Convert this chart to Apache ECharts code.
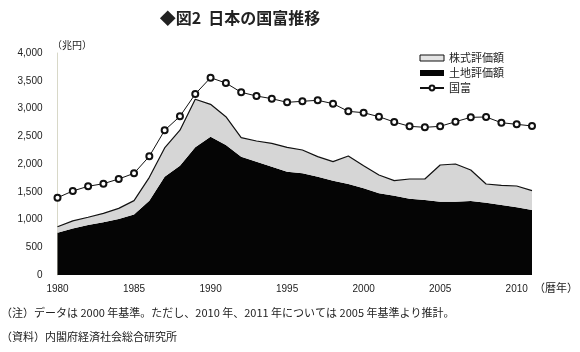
<!DOCTYPE html>
<html><head><meta charset="utf-8">
<script src="https://cdn.jsdelivr.net/npm/echarts@6/dist/echarts.min.js"></script>
<style>html,body{margin:0;padding:0;background:#fff}#c{width:580px;height:352px}</style>
</head><body><div id="c"></div>
<script>
const years = ['1980','1981','1982','1983','1984','1985','1986','1987','1988','1989','1990','1991','1992','1993','1994','1995','1996','1997','1998','1999','2000','2001','2002','2003','2004','2005','2006','2007','2008','2009','2010','2011'];
const land = [762,840,900,950,1010,1090,1340,1770,1970,2300,2492,2342,2132,2042,1952,1862,1832,1772,1700,1640,1562,1472,1430,1375,1351,1321,1321,1333,1303,1261,1220,1171];
const stock = [108,135,140,160,190,250,420,520,640,866,583,510,342,372,421,439,420,360,342,504,407,330,270,355,379,661,679,559,337,355,384,348];
const wealth = [1393,1514,1598,1645,1730,1832,2139,2607,2859,3261,3555,3459,3292,3225,3177,3111,3130,3148,3087,2949,2924,2852,2757,2679,2661,2679,2762,2841,2847,2744,2715,2685];
const yTicks = [0,500,1000,1500,2000,2500,3000,3500,4000];

const chart = echarts.init(document.getElementById('c'), null, {renderer:'canvas'});
const fam = '"Liberation Sans", Arial, sans-serif';
const jfam = '"Noto Sans CJK JP", sans-serif';
chart.setOption({
  animation:false,
  backgroundColor:'#fff',
  grid:{left:57.5, right:48, top:53, bottom:77},
  legend:{
    orient:'vertical', left:414, top:47, itemWidth:24, itemHeight:6, itemGap:3,
    data:[
      {name:'株式評価額', icon:'rect', itemStyle:{color:'#e4e4e4', borderColor:'#111', borderWidth:1}},
      {name:'土地評価額', icon:'rect', itemStyle:{color:'#050505', borderWidth:0}},
      {name:'国富'}
    ],
    textStyle:{fontFamily:jfam, fontSize:11, color:'#222', lineHeight:12}
  },
  xAxis:{
    type:'category', data:years, boundaryGap:false,
    axisLine:{show:false}, axisTick:{show:false},
    axisLabel:{interval:4, fontFamily:fam, fontSize:10, color:'#222', margin:9}
  },
  yAxis:{
    type:'value', min:yTicks[0], max:yTicks[yTicks.length-1], interval:500,
    splitLine:{show:false},
    axisLine:{show:true, lineStyle:{color:'#d8d8c8', width:1}},
    axisTick:{show:false},
    axisLabel:{fontFamily:fam, fontSize:10, color:'#222', margin:15,
      formatter:v=>v.toLocaleString('en-US')}
  },
  series:[
    {name:'土地評価額', type:'line', stack:'a', data:land, symbol:'none',
     lineStyle:{width:0}, areaStyle:{color:'#050505', opacity:1},
     itemStyle:{color:'#050505'}},
    {name:'株式評価額', type:'line', stack:'a', data:stock, symbol:'none',
     lineStyle:{width:1.2, color:'#111'}, areaStyle:{color:'#d6d6d6', opacity:1},
     itemStyle:{color:'#d6d6d6'}},
    {name:'国富', type:'line', data:wealth, symbol:'emptyCircle', symbolSize:6,
     lineStyle:{width:1, color:'#111'}, itemStyle:{color:'#111', borderWidth:1}}
  ],
  graphic:[
    {type:'text', style:{x:240, y:18, text:'◆図2  日本の国富推移', textAlign:'center', textVerticalAlign:'middle', font:'bold 16px "Noto Sans CJK JP"', fill:'#222'}},
    {type:'text', style:{x:52, y:45, text:'（兆円）', textVerticalAlign:'middle', font:'10px "Noto Sans CJK JP"', fill:'#222'}},
    {type:'text', style:{x:534, y:288, text:'（暦年）', textVerticalAlign:'middle', font:'11px "Noto Sans CJK JP"', fill:'#222'}},
    {type:'text', style:{x:1, y:313, text:'（注）データは 2000 年基準。ただし、2010 年、2011 年については 2005 年基準より推計。', textVerticalAlign:'middle', font:'11px "Noto Sans CJK JP"', fill:'#222'}},
    {type:'text', style:{x:1, y:337, text:'（資料）内閣府経済社会総合研究所', textVerticalAlign:'middle', font:'11px "Noto Sans CJK JP"', fill:'#222'}}
  ]
});
</script></body></html>
